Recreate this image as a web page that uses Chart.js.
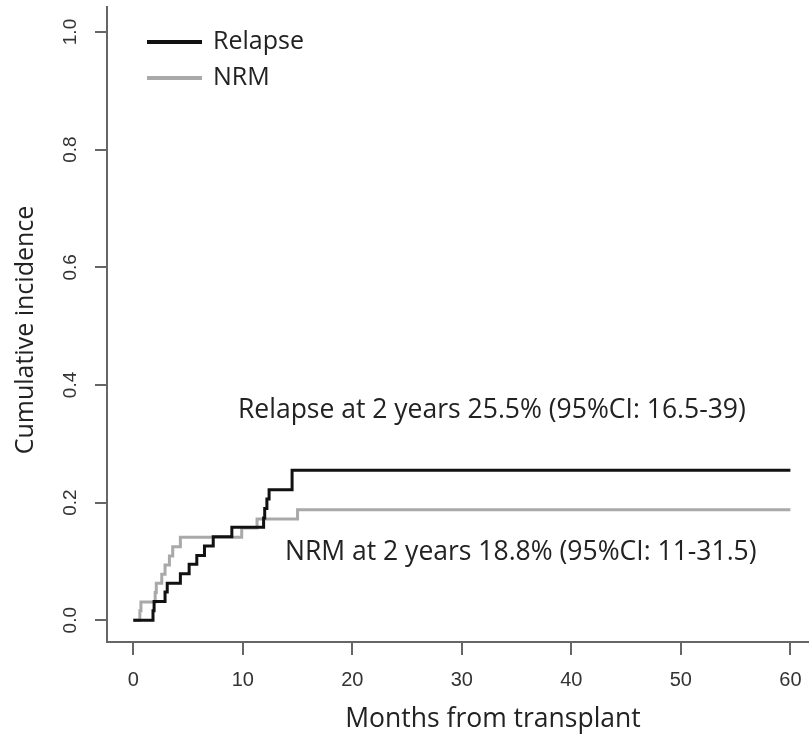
<!DOCTYPE html>
<html>
<head>
<meta charset="utf-8">
<script src="https://cdn.jsdelivr.net/npm/chart.js@4.4.1/dist/chart.umd.min.js"></script>
<style>
  html, body { margin: 0; padding: 0; background: #fff; }
  #wrap { width: 809px; height: 743px; }
</style>
</head>
<body>
<div id="wrap"><canvas id="cif" width="809" height="743"></canvas></div>
<script>
// cumulative incidence steps (months, proportion)
const relapseMonths = [0, 1.8, 1.9, 2.9, 3.1, 4.3, 5.1, 5.8, 6.5, 7.3, 9.0, 11.9, 12.0, 12.2, 12.4, 14.5, 60];
const relapseCI     = [0, 0.016, 0.032, 0.048, 0.063, 0.079, 0.095, 0.110, 0.126, 0.142, 0.158, 0.174, 0.190, 0.206, 0.222, 0.255, 0.255];
const nrmMonths = [0, 0.6, 0.7, 2.0, 2.1, 2.6, 2.9, 3.3, 3.6, 4.3, 9.9, 11.3, 15.0, 60];
const nrmCI     = [0, 0.016, 0.031, 0.047, 0.063, 0.078, 0.094, 0.109, 0.125, 0.141, 0.157, 0.172, 0.188, 0.188];

const xTicks = [0, 10, 20, 30, 40, 50, 60];
const yTicks = [0, 0.2, 0.4, 0.6, 0.8, 1.0];

const seriesNames = ['Relapse', 'NRM'];
const seriesColors = ['#111111', '#a9a9a9'];
const notes = ['Relapse at 2 years 25.5% (95%CI: 16.5-39)', 'NRM at 2 years 18.8% (95%CI: 11-31.5)'];

const toPoints = (xs, ys) => xs.map((x, i) => ({ x: x, y: ys[i] }));

const textFont = '"Open Sans", "Noto Sans", sans-serif';
const tickFont = '"Liberation Sans", Arial, sans-serif';

// legend, notes and axis titles drawn on top
const extras = {
  id: 'extras',
  afterDraw(chart) {
    const ctx = chart.ctx;
    ctx.save();
    ctx.fillStyle = '#222';
    ctx.textBaseline = 'middle';

    // legend in the top-left corner
    ctx.lineCap = 'butt';
    seriesNames.forEach((name, i) => {
      const y = 42 + i * 36;
      ctx.strokeStyle = seriesColors[i];
      ctx.lineWidth = 4;
      ctx.beginPath();
      ctx.moveTo(147, y);
      ctx.lineTo(202, y);
      ctx.stroke();
      ctx.font = '25px ' + textFont;
      ctx.textAlign = 'left';
      ctx.fillText(name, 213, y);
    });

    // estimates at 2 years
    ctx.font = '26.5px ' + textFont;
    ctx.textAlign = 'left';
    ctx.fillText(notes[0], 238, 410);
    ctx.fillText(notes[1], 285, 552);

    // axis titles
    ctx.font = '26.5px ' + textFont;
    ctx.textAlign = 'center';
    ctx.fillText('Months from transplant', 493, 719);
    ctx.font = '25px ' + textFont;
    ctx.translate(26, 330);
    ctx.rotate(-Math.PI / 2);
    ctx.fillText('Cumulative incidence', 0, 0);
    ctx.restore();
  }
};

new Chart(document.getElementById('cif'), {
  type: 'line',
  data: {
    datasets: [
      {
        label: seriesNames[0],
        data: toPoints(relapseMonths, relapseCI),
        borderColor: seriesColors[0],
        borderWidth: 3,
        stepped: 'before',
        pointRadius: 0,
        fill: false
      },
      {
        label: seriesNames[1],
        data: toPoints(nrmMonths, nrmCI),
        borderColor: seriesColors[1],
        borderWidth: 3,
        stepped: 'before',
        pointRadius: 0,
        fill: false,
        order: 1
      }
    ]
  },
  options: {
    responsive: false,
    animation: false,
    layout: { padding: { top: 7, right: 0, left: 0, bottom: 0 } },
    plugins: {
      legend: { display: false },
      tooltip: { enabled: false }
    },
    scales: {
      x: {
        type: 'linear',
        min: -2.4,
        max: 61.7,
        afterBuildTicks: (s) => { s.ticks = xTicks.map(v => ({ value: v })); },
        afterFit: (s) => { s.height = 101; s.paddingLeft = 0; s.paddingRight = 0; },
        ticks: {
          color: '#333',
          font: { family: tickFont, size: 20 },
          padding: 13,
          maxRotation: 0,
          callback: (v) => String(v)
        },
        grid: { drawOnChartArea: false, drawTicks: true, tickLength: 13, color: '#666', lineWidth: 2 },
        border: { display: true, color: '#666', width: 2 }
      },
      y: {
        min: -0.037,
        max: 1.0425,
        afterBuildTicks: (s) => { s.ticks = yTicks.map(v => ({ value: v })); },
        afterFit: (s) => { s.width = 107; s.paddingTop = 0; s.paddingBottom = 0; },
        ticks: {
          color: '#333',
          font: { family: tickFont, size: 19 },
          padding: 11,
          minRotation: 90,
          maxRotation: 90,
          crossAlign: 'center',
          callback: (v) => Number(v).toFixed(1)
        },
        grid: { drawOnChartArea: false, drawTicks: true, tickLength: 12, color: '#666', lineWidth: 2 },
        border: { display: true, color: '#666', width: 2 }
      }
    }
  },
  plugins: [extras]
});
</script>
</body>
</html>
